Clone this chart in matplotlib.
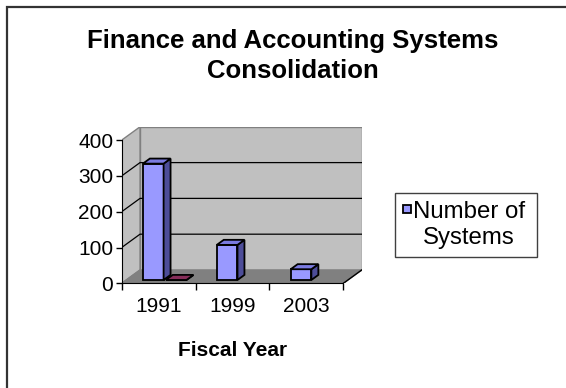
import matplotlib
matplotlib.use("Agg")
import matplotlib.pyplot as plt
from matplotlib.patches import Polygon, Rectangle

plt.rcParams['font.family'] = ['Liberation Sans', 'DejaVu Sans']

# data
years = ['1991', '1999', '2003']
systems = [325, 98, 30]
other = [0, None, None]          # flat maroon box next to 1991
series_name = 'Number of\nSystems'
y_ticks = [0, 100, 200, 300, 400]
y_max = 400

W, H = 566, 388
fig = plt.figure(figsize=(W / 100, H / 100), dpi=100)

# outer chart frame (only top/left edge lands inside the image)
fig.patches.append(Rectangle((7 / W, -0.1), 1.2, 1 - 7 / H + 0.1, transform=fig.transFigure,
                             fill=False, ec='#333333', lw=1.6))

# oblique 3D: depth z in [0,1] shifts points right/up
DX, DY = 0.248, 37.2
z0, z1 = 0.25, 0.63
n = len(years)
x_lo, x_hi = -0.5, n - 0.5


def P(x, y, z):
    return (x + z * DX, y + z * DY)


ax = fig.add_axes([121.7 / W, 104.7 / H, 240 / W, 156.5 / H])
ax.set_xlim(x_lo, x_hi + DX)
ax.set_ylim(0, y_max + DY)
ax.patch.set_visible(False)

# walls and floor
back = [P(x_lo, 0, 1), P(x_hi, 0, 1), P(x_hi, y_max, 1), P(x_lo, y_max, 1)]
side = [P(x_lo, 0, 0), P(x_lo, 0, 1), P(x_lo, y_max, 1), P(x_lo, y_max, 0)]
floor = [P(x_lo, 0, 0), P(x_hi, 0, 0), P(x_hi, 0, 1), P(x_lo, 0, 1)]
ax.add_patch(Polygon(back, fc='#C0C0C0', ec='#808080', lw=1))
ax.add_patch(Polygon(side, fc='#C0C0C0', ec='#808080', lw=1))
ax.add_patch(Polygon(floor, fc='#808080', ec='#808080', lw=1))
fx, fy = zip(P(x_hi, 0, 0), P(x_hi, 0, 1))
ax.plot(fx, fy, color='black', lw=1)

for v in y_ticks[1:-1]:
    pts = [P(x_lo, v, 0), P(x_lo, v, 1), P(x_hi, v, 1)]
    ax.plot([p[0] for p in pts], [p[1] for p in pts], color='black', lw=0.9)


def bar3d(x0, w, v, front, top, sidec):
    ax.bar(x0 + z0 * DX, v, width=w, bottom=z0 * DY, align='edge',
           color=front, edgecolor='black', lw=1.3, zorder=3)
    x1 = x0 + w
    ax.add_patch(Polygon([P(x1, 0, z0), P(x1, 0, z1), P(x1, v, z1), P(x1, v, z0)],
                         fc=sidec, ec='black', lw=1.3, zorder=3))
    ax.add_patch(Polygon([P(x0, v, z0), P(x1, v, z0), P(x1, v, z1), P(x0, v, z1)],
                         fc=top, ec='black', lw=1.3, zorder=3))


bw = 0.28
offs = [-0.275, 0.035]
for i in range(n):
    bar3d(i + offs[0], bw, systems[i], '#9999FF', '#7B7BE0', '#4D4D99')
    if other[i] is not None:
        bar3d(i + offs[1], bw, other[i], '#993366', '#862D59', '#5C1F3D')

for s in ['top', 'right']:
    ax.spines[s].set_visible(False)
ax.spines['left'].set_bounds(0, y_max)
ax.spines['bottom'].set_bounds(x_lo, x_hi)
ax.spines['left'].set_zorder(5)
ax.spines['bottom'].set_zorder(5)

ax.set_yticks(y_ticks)
ax.tick_params(axis='y', direction='out', length=4, width=1, pad=2, labelsize=15)
ax.set_xticks(range(n))
ax.set_xticklabels(years)
ax.set_xticks([i - 0.5 for i in range(n + 1)], minor=True)
ax.tick_params(axis='x', which='major', length=0, pad=10, labelsize=15)
ax.tick_params(axis='x', which='minor', direction='out', length=5, width=1)

fig.text(232.5 / W, 1 - 350 / H, 'Fiscal Year', ha='center', va='center',
         fontsize=15, fontweight='bold')
fig.text(293 / W, 1 - 56 / H, 'Finance and Accounting Systems\nConsolidation',
         ha='center', va='center', fontsize=18.5, fontweight='bold', linespacing=1.35)

# legend box
fig.patches.append(Rectangle((395 / W, 1 - 257 / H), 142 / W, 64 / H, transform=fig.transFigure,
                             fill=False, ec='#404040', lw=1))
fig.patches.append(Rectangle((402.7 / W, 1 - 213.3 / H), 8 / W, 8 / H, transform=fig.transFigure,
                             fc='#9999FF', ec='black', lw=1.3))
fig.text(469 / W, 1 - 225 / H, series_name, ha='center', va='center', fontsize=17.3,
         linespacing=1.25)

fig.savefig('out.png', dpi=100)
